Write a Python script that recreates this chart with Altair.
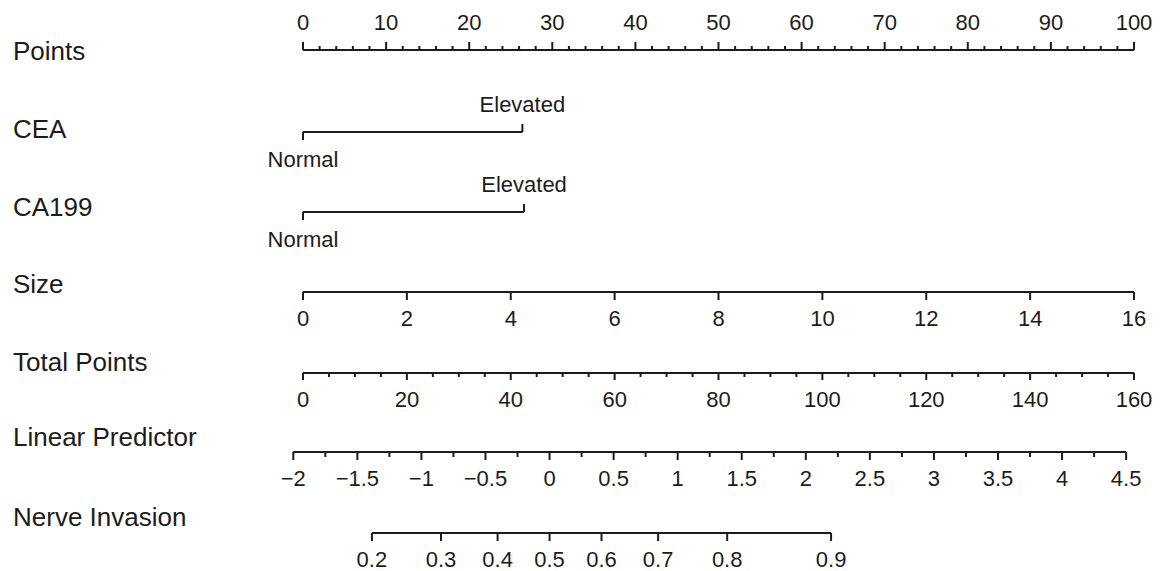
import math
import altair as alt
import pandas as pd

# ---------------- nomogram content ----------------
row_titles = ["Points", "CEA", "CA199", "Size", "Total Points",
              "Linear Predictor", "Nerve Invasion"]

# Points scale (0-100)
points_major = list(range(0, 101, 10))
points_minor = [v for v in range(0, 101, 2) if v % 10]

# Categorical predictors: level -> points
cea_levels = ["Normal", "Elevated"]
cea_points = [0.0, 26.4]
ca199_levels = ["Normal", "Elevated"]
ca199_points = [0.0, 26.6]

# Tumour size: 16 earns the full 100 points
size_ticks = [0, 2, 4, 6, 8, 10, 12, 14, 16]
size_full = 16

# Total points scale
total_major = list(range(0, 161, 20))
total_minor = [v for v in range(0, 161, 5) if v % 20]
total_full = 160

# Linear predictor: total = LP_TOTAL_AT_ZERO + LP_TOTAL_SLOPE * lp
lp_major = [-2, -1.5, -1, -0.5, 0, 0.5, 1, 1.5, 2, 2.5, 3, 3.5, 4, 4.5]
lp_minor = [-1.75, -1.25, -0.75, -0.25, 0.25, 0.75, 1.25, 1.75,
            2.25, 2.75, 3.25, 3.75, 4.25]
LP_TOTAL_AT_ZERO = 47.47
LP_TOTAL_SLOPE = 24.67

# Probability of nerve invasion (logistic link on the linear predictor)
nerve_probs = [0.2, 0.3, 0.4, 0.5, 0.6, 0.7, 0.8, 0.9]

# ---------------- layout (pixels) ----------------
ROW_Y = [50, 132, 212, 292, 373, 452, 533]
TITLE_Y = [52, 130, 208, 285, 363, 438, 518]
MAJOR = 8
MINOR = 4
LABEL_GAP = 27
INK = "#1c1c1c"
FONT = "Liberation Sans"


def total_to_pts(t):
    return t * 100.0 / total_full


def lp_to_pts(lp):
    return total_to_pts(LP_TOTAL_AT_ZERO + LP_TOTAL_SLOPE * lp)


def fmt(v):
    s = ("%g" % v)
    return s.replace("-", "\u2212")


segments, ticks, labels = [], [], []


def add_axis(row, values, texts, to_pts, length, up, minor=(), minor_len=MINOR):
    y = ROW_Y[row]
    xs = [to_pts(v) for v in values]
    segments.append({"x": min(xs), "x2": max(xs), "y": y})
    sign = -1 if up else 1
    for v, t in zip(values, texts):
        p = to_pts(v)
        ticks.append({"x": p, "y": y, "y2": y + sign * length})
        labels.append({"x": p, "y": y + sign * LABEL_GAP, "text": t})
    for v in minor:
        p = to_pts(v)
        ticks.append({"x": p, "y": y, "y2": y + sign * minor_len})


# Points
add_axis(0, points_major, [fmt(v) for v in points_major], lambda v: v,
         MAJOR, True, points_minor)


# CEA / CA199: first level tick down with label below, second up with label above
def add_binary(row, levels, pts):
    y = ROW_Y[row]
    segments.append({"x": pts[0], "x2": pts[1], "y": y})
    ticks.append({"x": pts[0], "y": y, "y2": y + MAJOR})
    labels.append({"x": pts[0], "y": y + LABEL_GAP + 1, "text": levels[0]})
    ticks.append({"x": pts[1], "y": y, "y2": y - MAJOR})
    labels.append({"x": pts[1], "y": y - LABEL_GAP, "text": levels[1]})


add_binary(1, cea_levels, cea_points)
add_binary(2, ca199_levels, ca199_points)

# Size
add_axis(3, size_ticks, [fmt(v) for v in size_ticks],
         lambda v: v * 100.0 / size_full, MAJOR, False)

# Total points
add_axis(4, total_major, [fmt(v) for v in total_major], total_to_pts,
         7, False, total_minor)

# Linear predictor
add_axis(5, lp_major, [fmt(v) for v in lp_major], lp_to_pts,
         MAJOR, False, lp_minor, 5)

# Nerve invasion probability
add_axis(6, nerve_probs, [fmt(v) for v in nerve_probs],
         lambda p: lp_to_pts(math.log(p / (1 - p))), MAJOR, False)

seg_df = pd.DataFrame(segments)
tick_df = pd.DataFrame(ticks)
label_df = pd.DataFrame(labels)
title_df = pd.DataFrame({"text": row_titles, "y": TITLE_Y})

xscale = alt.Scale(domain=[0, 100], nice=False, zero=False)

seg = alt.Chart(seg_df).mark_rule(color=INK, strokeWidth=2).encode(
    x=alt.X("x:Q", scale=xscale, axis=None),
    x2="x2:Q",
    y=alt.Y("y:Q", scale=None, axis=None),
)

tick = alt.Chart(tick_df).mark_rule(color=INK, strokeWidth=2).encode(
    x=alt.X("x:Q", scale=xscale, axis=None),
    y=alt.Y("y:Q", scale=None, axis=None),
    y2="y2:Q",
)

lab = alt.Chart(label_df).mark_text(
    font=FONT, fontSize=22, color=INK, align="center", baseline="middle"
).encode(
    x=alt.X("x:Q", scale=xscale, axis=None),
    y=alt.Y("y:Q", scale=None, axis=None),
    text="text:N",
)

titles = alt.Chart(title_df).mark_text(
    font=FONT, fontSize=26, color=INK, align="left", baseline="middle"
).encode(
    x=alt.value(-290),
    y=alt.Y("y:Q", scale=None, axis=None),
    text="text:N",
)

chart = alt.layer(seg, tick, lab, titles).properties(
    width=831,
    height=571,
    autosize=alt.AutoSizeParams(type="none"),
    padding={"left": 303, "top": 0, "right": 27, "bottom": 0},
    background="white",
).configure_view(stroke=None)

chart.save("out.html", embed_options={"renderer": "svg", "actions": False})
